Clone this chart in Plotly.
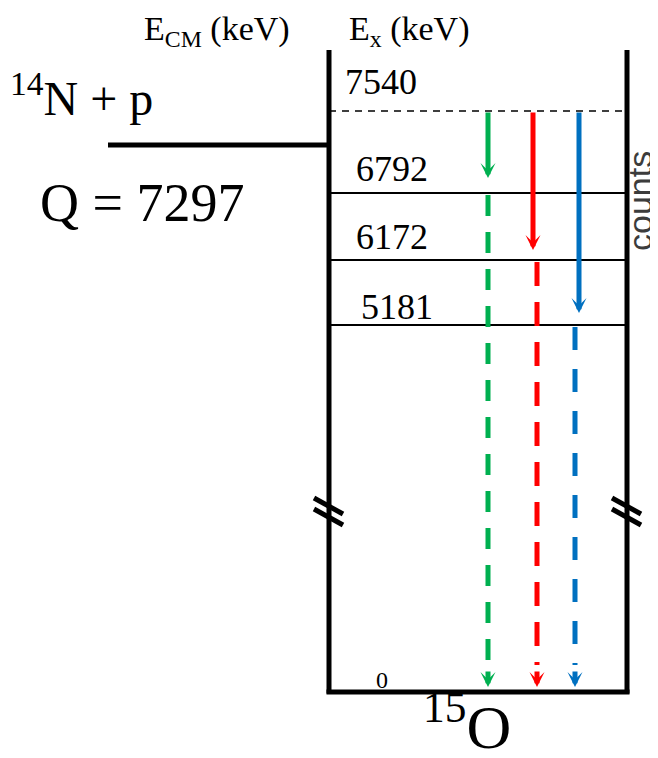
import plotly.graph_objects as go

# ---------------- data ----------------
level_energies = [7540, 6792, 6172, 5181, 0]          # keV, 15O levels
level_labels = ["7540", "6792", "6172", "5181", "0"]
q_value = 7297                                       # 14N + p threshold (keV)
capture_level = 7540                                 # resonance level
final_levels = [6792, 6172, 5181]                    # primary gamma end levels
ground_level = 0

# ---------------- schematic layout (diagram units, top-down) ----------------
LEVEL_POS = {7540: 111, 6792: 193, 6172: 260, 5181: 325, 0: 692}
LABEL_X = {7540: 343, 6792: 354, 6172: 354, 5181: 359}
LABEL_DY = {7540: -29, 6792: -24, 6172: -23, 5181: -18}
Q_POS = 145
BOX_LEFT, BOX_RIGHT, BOX_TOP = 329, 627, 50
BREAK_POS = 512

arrow_colors = ["#00B050", "#FF0000", "#0070C0"]
primary_x = [488, 533, 579]
secondary_x = [488, 537, 575]
tip_gap = [15, 10, 12]
dash_pat = ["21px,16px", "24px,16px", "23px,19px"]

SERIF = "'Liberation Serif', 'Times New Roman', serif"
SANS = "'Liberation Sans', Arial, sans-serif"

# page body has an 8px margin: the plot covers page pixels 8..658 / 8..758
PAGE_OFF = 8
W, H = 658, 758

fig = go.Figure()
fig.add_trace(go.Scatter(x=[PAGE_OFF, W], y=[PAGE_OFF, H], mode="markers",
                         marker=dict(opacity=0), hoverinfo="skip", showlegend=False))

shapes = []
ann = []

def line(x0, y0, x1, y1, w, color="black", dash=None):
    d = dict(type="line", x0=x0, y0=y0, x1=x1, y1=y1, xref="x", yref="y",
             line=dict(color=color, width=w))
    if dash:
        d["line"]["dash"] = dash
    shapes.append(d)

y_bottom = LEVEL_POS[ground_level]
# box
line(BOX_LEFT, BOX_TOP, BOX_LEFT, y_bottom + 1.5, 5)
line(BOX_RIGHT, BOX_TOP, BOX_RIGHT, y_bottom + 1.5, 5)
line(BOX_LEFT - 2.5, y_bottom, BOX_RIGHT + 2.5, y_bottom, 5)
# Q threshold line
line(108, Q_POS, BOX_LEFT, Q_POS, 5)

# levels
for e, lab in zip(level_energies, level_labels):
    y = LEVEL_POS[e]
    if e == capture_level:
        line(BOX_LEFT, y, BOX_RIGHT, y, 1.6, dash="7px,6px")
    elif e != ground_level:
        line(BOX_LEFT, y, BOX_RIGHT, y, 1.8)
    if e == ground_level:
        ann.append(dict(x=382, y=y - 12, text=lab, showarrow=False, xanchor="center",
                        yanchor="middle", font=dict(family=SERIF, size=24, color="black")))
    else:
        ann.append(dict(x=LABEL_X[e], y=y + LABEL_DY[e], text=lab, showarrow=False, xanchor="left",
                        yanchor="middle", font=dict(family=SERIF, size=36, color="black")))

# gamma transitions
for fl, col, xp, xs, g, dp in zip(final_levels, arrow_colors, primary_x, secondary_x, tip_gap, dash_pat):
    y_start = LEVEL_POS[capture_level]
    y_tip = LEVEL_POS[fl] - g
    ann.append(dict(x=xp, y=y_tip, ax=xp, ay=y_start, axref="x", ayref="y",
                    text="", showarrow=True, arrowhead=3,
                    arrowsize=0.5, arrowwidth=5, arrowcolor=col, standoff=0, startstandoff=0))
    # secondary (dashed) to ground
    y0 = LEVEL_POS[fl] + 2
    y_end_tip = LEVEL_POS[ground_level] - 5
    line(xs, y0, xs, y_end_tip - 22, 5, color=col, dash=dp)
    ann.append(dict(x=xs, y=y_end_tip, ax=xs, ay=y_end_tip - 17, axref="x", ayref="y",
                    text="", showarrow=True, arrowhead=3,
                    arrowsize=0.5, arrowwidth=5, arrowcolor=col, standoff=0, startstandoff=0))

# axis break marks
for xb in (BOX_LEFT, BOX_RIGHT):
    for off in (-5, 6):
        line(xb - 15, BREAK_POS + off - 9, xb + 14, BREAK_POS + off + 7, 5)

# texts
ann.append(dict(x=142, y=31, text="E<sub>CM</sub> (keV)", showarrow=False, xanchor="left",
                yanchor="middle", font=dict(family=SERIF, size=34, color="black")))
ann.append(dict(x=347, y=31, text="E<sub>x</sub> (keV)", showarrow=False, xanchor="left",
                yanchor="middle", font=dict(family=SERIF, size=34, color="black")))
ann.append(dict(x=8, y=95, text="<sup>14</sup>N + p", showarrow=False, xanchor="left",
                yanchor="middle", font=dict(family=SERIF, size=48, color="black")))
ann.append(dict(x=38, y=203, text=f"Q = {q_value}", showarrow=False, xanchor="left",
                yanchor="middle", font=dict(family=SERIF, size=54, color="black")))
ann.append(dict(x=421, y=722, text="<sup>15</sup>O", showarrow=False, xanchor="left",
                yanchor="middle", font=dict(family=SERIF, size=62, color="black")))
ann.append(dict(x=640, y=201, text="counts", showarrow=False, textangle=-90,
                xanchor="center", yanchor="middle",
                font=dict(family=SANS, size=34, color="#3c3c3c")))

for a in ann:
    a.setdefault("xref", "x")
    a.setdefault("yref", "y")

fig.update_layout(
    width=W - PAGE_OFF, height=H - PAGE_OFF, margin=dict(l=0, r=0, t=0, b=0),
    paper_bgcolor="white", plot_bgcolor="white",
    xaxis=dict(range=[PAGE_OFF, W], visible=False, fixedrange=True),
    yaxis=dict(range=[H, PAGE_OFF], visible=False, fixedrange=True),
    shapes=shapes, annotations=ann, showlegend=False,
)

fig.write_html("out.html")
